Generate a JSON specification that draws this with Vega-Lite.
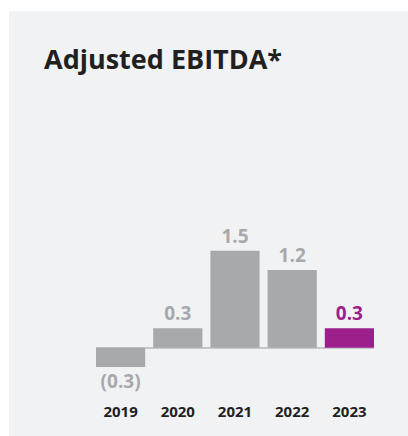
{
  "$schema": "https://vega.github.io/schema/vega-lite/v6.json",
  "width": 399,
  "height": 425,
  "autosize": {"type": "none"},
  "padding": {"left": 9, "top": 11, "right": 0, "bottom": 0},
  "background": "#ffffff",
  "config": {
    "view": {"fill": "#f1f2f4", "stroke": null},
    "font": "Open Sans"
  },
  "title": {
    "text": "Adjusted EBITDA*",
    "anchor": "start",
    "frame": "group",
    "orient": "top",
    "baseline": "alphabetic",
    "offset": -85.4,
    "dx": 35,
    "font": "Open Sans",
    "fontSize": 27,
    "fontWeight": "bold",
    "color": "#231f20"
  },
  "data": {
    "values": [
      {"year": "2019", "value": -0.3, "label": "(0.3)", "highlight": false},
      {"year": "2020", "value": 0.3, "label": "0.3", "highlight": false},
      {"year": "2021", "value": 1.5, "label": "1.5", "highlight": false},
      {"year": "2022", "value": 1.2, "label": "1.2", "highlight": false},
      {"year": "2023", "value": 0.3, "label": "0.3", "highlight": true}
    ]
  },
  "encoding": {
    "x": {
      "field": "year",
      "type": "nominal",
      "sort": null,
      "scale": {"domain": ["2019", "2020", "2021", "2022", "2023"], "range": [87, 365], "paddingInner": 0.14, "paddingOuter": 0},
      "axis": {
        "orient": "bottom",
        "offset": -19.3,
        "title": null,
        "ticks": false,
        "domain": false,
        "labelPadding": 0,
        "labelBaseline": "alphabetic",
        "labelAngle": 0,
        "labelFont": "Open Sans",
        "labelFontSize": 15,
        "labelFontWeight": "bold",
        "labelColor": "#231f20"
      }
    }
  },
  "layer": [
    {
      "mark": {"type": "rule", "color": "#c6c7c9", "strokeWidth": 1.5},
      "encoding": {
        "x": {"datum": "2019", "bandPosition": 0},
        "x2": {"datum": "2023", "bandPosition": 1},
        "y": {"datum": 0, "type": "quantitative", "scale": {"domain": [-1.365, 5.204], "nice": false, "zero": false}, "axis": null}
      }
    },
    {
      "mark": {"type": "bar"},
      "encoding": {
        "y": {"field": "value", "type": "quantitative", "scale": {"domain": [-1.365, 5.204], "nice": false, "zero": false}, "axis": null},
        "y2": {"datum": 0},
        "color": {
          "field": "highlight",
          "type": "nominal",
          "scale": {"domain": [false, true], "range": ["#a7a9ac", "#9c1f8c"]},
          "legend": null
        }
      }
    },
    {
      "transform": [{"filter": "datum.value >= 0"}],
      "mark": {"type": "text", "baseline": "alphabetic", "dy": -8, "fontSize": 19, "fontWeight": "bold", "font": "Open Sans"},
      "encoding": {
        "y": {"field": "value", "type": "quantitative"},
        "text": {"field": "label"},
        "color": {"field": "highlight", "type": "nominal", "legend": null}
      }
    },
    {
      "transform": [{"filter": "datum.value < 0"}],
      "mark": {"type": "text", "baseline": "alphabetic", "dy": 20.5, "fontSize": 19, "fontWeight": "bold", "font": "Open Sans"},
      "encoding": {
        "y": {"field": "value", "type": "quantitative"},
        "text": {"field": "label"},
        "color": {"field": "highlight", "type": "nominal", "legend": null}
      }
    }
  ]
}
